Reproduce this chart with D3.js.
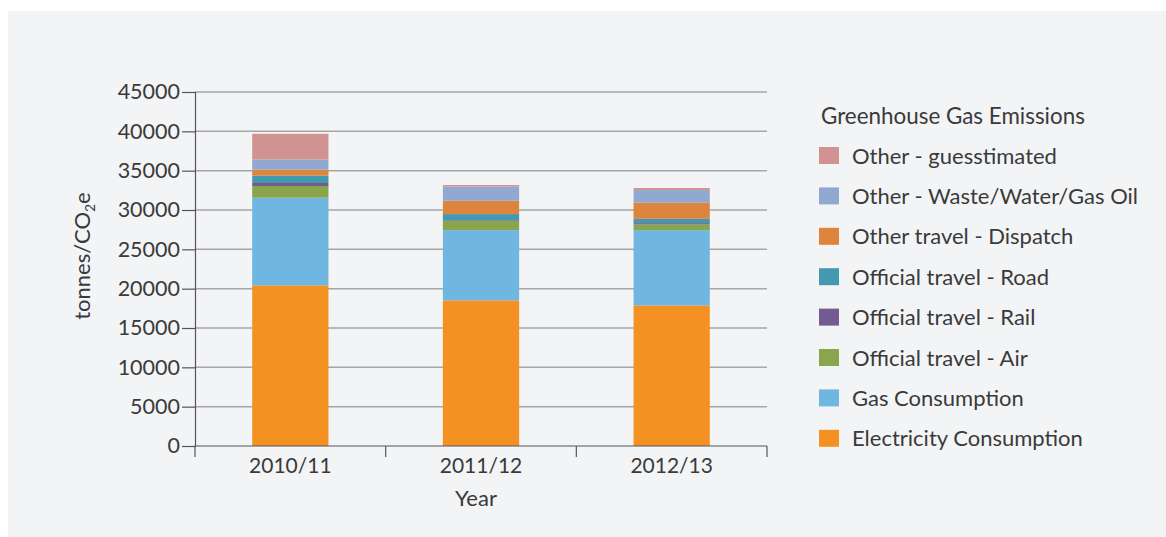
<!DOCTYPE html>
<html>
<head>
<meta charset="utf-8">
<script src="https://cdn.jsdelivr.net/npm/d3@7/dist/d3.min.js"></script>
<style>
  html, body { margin: 0; padding: 0; background: #ffffff; }
  svg text { font-family: Lato, "Open Sans", sans-serif; fill: #3a3a3a; }
</style>
</head>
<body>
<svg id="chart" width="1166" height="537"></svg>
<script>
// Reporting years
const years = ["2010/11", "2011/12", "2012/13"];

// Emission sources, stacked bottom to top
const seriesNames = [
  "Electricity Consumption",
  "Gas Consumption",
  "Official travel - Air",
  "Official travel - Rail",
  "Official travel - Road",
  "Other travel - Dispatch",
  "Other - Waste/Water/Gas Oil",
  "Other - guesstimated"
];
const seriesColors = [
  "#f39222", "#6fb6e0", "#8aa64c", "#735a91",
  "#4299b0", "#dd843d", "#91a9d0", "#d09391"
];

// tonnes CO2e per source, one value per year
const electricity = [20420, 18510, 17870];
const gas         = [11140, 8930, 9570];
const air         = [1490, 1190, 720];
const rail        = [380, 85, 170];
const road        = [940, 765, 550];
const dispatch    = [765, 1700, 2040];
const wasteWater  = [1275, 1790, 1615];
const guessed     = [3275, 210, 255];

const yTicks = [0, 5000, 10000, 15000, 20000, 25000, 30000, 35000, 40000, 45000];

const seriesValues = [electricity, gas, air, rail, road, dispatch, wasteWater, guessed];
const rows = years.map((y, i) => {
  const r = { year: y };
  seriesNames.forEach((n, k) => { r[n] = seriesValues[k][i]; });
  return r;
});

const svg = d3.select("#chart");

// panel background
svg.append("rect")
  .attr("x", 8).attr("y", 11)
  .attr("width", 1158).attr("height", 526)
  .attr("fill", "#f3f4f6");

const plot = { left: 195, right: 767, top: 92, bottom: 446 };

const x = d3.scaleBand()
  .domain(years)
  .range([plot.left, plot.right])
  .paddingInner(0.6)
  .paddingOuter(0.3);

const y = d3.scaleLinear()
  .domain([0, 45000])
  .range([plot.bottom, plot.top]);

// horizontal gridlines
svg.append("g")
  .selectAll("line")
  .data(yTicks.filter(t => t > 0))
  .join("line")
  .attr("x1", plot.left).attr("x2", plot.right)
  .attr("y1", d => y(d)).attr("y2", d => y(d))
  .attr("stroke", "#a6a6a6")
  .attr("stroke-width", 1.5);

// stacked bars
const stack = d3.stack().keys(seriesNames);
const layers = stack(rows);

svg.append("g")
  .selectAll("g")
  .data(layers)
  .join("g")
  .attr("fill", (d, i) => seriesColors[i])
  .selectAll("rect")
  .data(d => d)
  .join("rect")
  .attr("x", d => x(d.data.year))
  .attr("width", x.bandwidth())
  .attr("y", d => y(d[1]))
  .attr("height", d => y(d[0]) - y(d[1]));

// y axis
const yAxis = d3.axisLeft(y)
  .tickValues(yTicks)
  .tickFormat(d3.format("d"))
  .tickSizeOuter(0)
  .tickSize(13)
  .tickPadding(2);

const gy = svg.append("g")
  .attr("transform", `translate(${plot.left},0)`)
  .call(yAxis);
gy.select(".domain").attr("stroke", "#555").attr("stroke-width", 1.2);
gy.selectAll(".tick line").attr("stroke", "#555").attr("stroke-width", 1.2);
gy.selectAll(".tick text")
  .attr("font-size", 21.5)
  .attr("fill", "#3a3a3a")
  .style("font-family", "Lato, sans-serif");

// x axis with ticks on band edges
const gx = svg.append("g");
gx.append("line")
  .attr("x1", plot.left).attr("x2", plot.right)
  .attr("y1", plot.bottom).attr("y2", plot.bottom)
  .attr("stroke", "#555").attr("stroke-width", 1.2);

const bandEdges = d3.range(years.length + 1).map(i => plot.left + i * (plot.right - plot.left) / years.length);
gx.selectAll("line.edge")
  .data(bandEdges)
  .join("line")
  .attr("class", "edge")
  .attr("x1", d => d).attr("x2", d => d)
  .attr("y1", plot.bottom).attr("y2", plot.bottom + 11)
  .attr("stroke", "#555").attr("stroke-width", 1.2);

gx.selectAll("text")
  .data(years)
  .join("text")
  .attr("x", d => x(d) + x.bandwidth() / 2)
  .attr("y", 473)
  .attr("text-anchor", "middle")
  .attr("font-size", 21)
  .text(d => d);

// axis titles
svg.append("text")
  .attr("x", 476).attr("y", 506)
  .attr("text-anchor", "middle")
  .attr("font-size", 22)
  .attr("fill", "#222")
  .text("Year");

const yTitle = svg.append("text")
  .attr("transform", "translate(90,256) rotate(-90)")
  .attr("text-anchor", "middle")
  .attr("font-size", 22)
  .attr("fill", "#222");
yTitle.append("tspan").text("tonnes/CO");
yTitle.append("tspan").attr("font-size", 14).attr("dy", 5).text("2");
yTitle.append("tspan").attr("dy", -5).text("e");

// legend, top entry is the top layer of the stack
const legend = svg.append("g");
legend.append("text")
  .attr("x", 821).attr("y", 124)
  .attr("font-size", 22.4)
  .attr("fill", "#222")
  .text("Greenhouse Gas Emissions");

const legendItems = seriesNames.map((n, i) => ({ name: n, color: seriesColors[i] })).reverse();
const item = legend.selectAll("g.item")
  .data(legendItems)
  .join("g")
  .attr("class", "item")
  .attr("transform", (d, i) => `translate(819,${147 + i * 40.4})`);
item.append("rect")
  .attr("width", 20).attr("height", 17)
  .attr("fill", d => d.color);
item.append("text")
  .attr("x", 33).attr("y", 16.5)
  .attr("font-size", 22)
  .text(d => d.name);
</script>
</body>
</html>
